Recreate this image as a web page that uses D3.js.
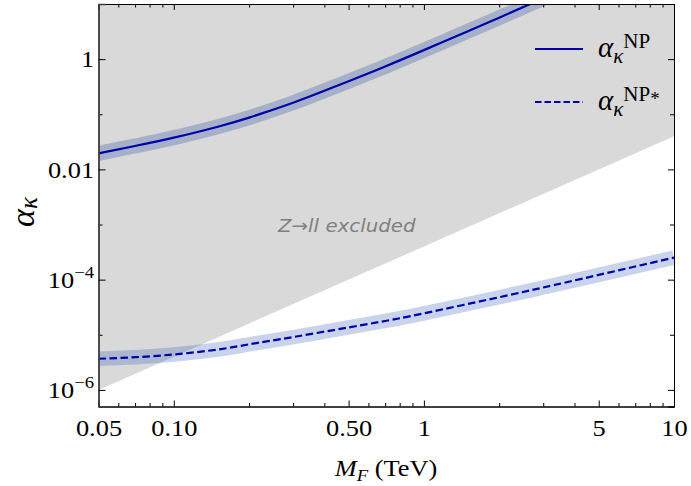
<!DOCTYPE html>
<html>
<head>
<meta charset="utf-8">
<script src="https://cdn.jsdelivr.net/npm/d3@7"></script>
<style>
    body { margin: 0; background: #fff; }
    svg { display: block; }
</style>
</head>
<body>
<div id="svg-wrapper"><svg id="svg" width="691" height="486"></svg></div>
<script>
// values
const massNP = [0.05, 0.07, 0.1, 0.15, 0.2, 0.3, 0.4, 0.5, 0.7, 1, 1.5, 2, 3];
const alphaNP = [0.0195, 0.0266, 0.0376, 0.0595, 0.0869, 0.162, 0.266, 0.398, 0.736, 1.456, 3.21, 5.65, 12.7];
const massNPstar = [0.05, 0.07, 0.1, 0.15, 0.2, 0.3, 0.5, 0.7, 1, 2, 3, 5, 10];
const alphaNPstar = [3.67e-6, 3.92e-6, 4.4e-6, 5.4e-6, 6.7e-6, 9.1e-6, 1.36e-5, 1.78e-5, 2.45e-5, 4.8e-5, 7.2e-5, 1.22e-4, 2.51e-4];
// Z -> ll exclusion boundary (excluded above)
const boundMass = [0.05, 10];
const boundAlpha = [1e-6, 0.04];

const xMajor = [0.05, 0.1, 0.5, 1, 5, 10];
const xMajorLabels = ["0.05", "0.10", "0.50", "1", "5", "10"];
const xMinor = [0.06, 0.07, 0.08, 0.09, 0.2, 0.3, 0.4, 0.6, 0.7, 0.8, 0.9, 2, 3, 4, 6, 7, 8, 9];
const yMajor = [1e-6, 1e-4, 1e-2, 1];
const yMajorLabels = [["10", "\u22126"], ["10", "\u22124"], ["0.01", ""], ["1", ""]];
const yMinor = [1e-5, 1e-3, 0.1];

const svg = d3.select("#svg");
const W = 691, H = 486;
const margin = {top: 4, right: 17, bottom: 79.5, left: 98.5};
const serif = "'Liberation Serif', 'Times New Roman', serif";
const stretch = "scale(1.1,1)";
const lineColor = "#0000a8";

const x = d3.scaleLog().domain([0.05, 10]).range([margin.left, W - margin.right]);
const y = d3.scaleLog().domain([5e-7, 10]).range([H - margin.bottom, margin.top]);

svg.append("defs").append("clipPath").attr("id", "plot-clip")
    .append("rect")
    .attr("x", margin.left).attr("y", margin.top)
    .attr("width", x.range()[1] - x.range()[0])
    .attr("height", y.range()[0] - y.range()[1]);

const plot = svg.append("g").attr("clip-path", "url(#plot-clip)");

// excluded region
const excl = boundMass.map((m, i) => [x(m), y(boundAlpha[i])]);
excl.push([x(10), y(10)], [x(0.05), y(10)]);
plot.append("path")
    .attr("d", "M" + excl.join("L") + "Z")
    .attr("fill", "#d9d9d9");

plot.append("text")
    .attr("x", 278).attr("y", 232)
    .attr("transform", "translate(278,0) " + stretch + " translate(-278,0)")
    .attr("font-family", "'DejaVu Sans', sans-serif")
    .attr("font-style", "italic")
    .attr("font-size", 18)
    .attr("fill", "#7f7f7f")
    .text("Z\u2192ll excluded");

const line = d3.line()
    .x(d => x(d[0]))
    .y(d => y(d[1]))
    .curve(d3.curveNatural);

const dataNP = massNP.map((m, i) => [m, alphaNP[i]]);
const dataNPstar = massNPstar.map((m, i) => [m, alphaNPstar[i]]);

// uncertainty bands
plot.append("path").datum(dataNP)
    .attr("d", line)
    .attr("fill", "none")
    .attr("stroke", "rgb(50,85,165)")
    .attr("stroke-opacity", 0.3)
    .attr("stroke-width", 15);
plot.append("path").datum(dataNPstar)
    .attr("d", line)
    .attr("fill", "none")
    .attr("stroke", "rgb(60,100,185)")
    .attr("stroke-opacity", 0.28)
    .attr("stroke-width", 14.5);

plot.append("path").datum(dataNP)
    .attr("d", line)
    .attr("fill", "none")
    .attr("stroke", lineColor)
    .attr("stroke-width", 2.2);
plot.append("path").datum(dataNPstar)
    .attr("d", line)
    .attr("fill", "none")
    .attr("stroke", lineColor)
    .attr("stroke-width", 2.2)
    .attr("stroke-dasharray", "7.5,3.5");

// frame + ticks
function styleAxis(g) {
    g.selectAll("line").attr("stroke", "#000");
    g.select(".domain").attr("stroke", "#000");
}

const yBottom = H - margin.bottom, yTop = margin.top;
const xLeft = margin.left, xRight = W - margin.right;

svg.append("g").attr("transform", `translate(0,${yBottom})`)
    .call(d3.axisBottom(x).tickValues(xMinor).tickSize(-3.5).tickFormat(""))
    .call(styleAxis);
const xAx = svg.append("g").attr("transform", `translate(0,${yBottom})`)
    .call(d3.axisBottom(x).tickValues(xMajor).tickSize(-6).tickPadding(12)
        .tickFormat((d, i) => xMajorLabels[i]))
    .call(styleAxis);
xAx.selectAll("text")
    .attr("font-family", serif).attr("font-size", 24)
    .attr("fill", "#000")
    .attr("transform", stretch);

svg.append("g").attr("transform", `translate(0,${yTop})`)
    .call(d3.axisTop(x).tickValues(xMinor).tickSize(-3.5).tickFormat(""))
    .call(styleAxis);
svg.append("g").attr("transform", `translate(0,${yTop})`)
    .call(d3.axisTop(x).tickValues(xMajor).tickSize(-6).tickFormat(""))
    .call(styleAxis);

svg.append("g").attr("transform", `translate(${xLeft},0)`)
    .call(d3.axisLeft(y).tickValues(yMinor).tickSize(-4).tickFormat(""))
    .call(styleAxis);
const yAx = svg.append("g").attr("transform", `translate(${xLeft},0)`)
    .call(d3.axisLeft(y).tickValues(yMajor).tickSize(-7).tickPadding(4).tickFormat(""))
    .call(styleAxis);
yAx.select(".domain").attr("stroke", "#444").attr("stroke-width", 1.6);
yAx.selectAll(".tick text")
    .attr("font-family", serif).attr("font-size", 24)
    .attr("fill", "#000")
    .attr("transform", stretch)
    .each(function(d) {
        const lab = yMajorLabels[yMajor.indexOf(d)];
        const t = d3.select(this);
        t.append("tspan").text(lab[0]);
        if (lab[1]) {
            t.append("tspan").attr("font-size", 17).attr("dy", -10).text(lab[1]);
        }
    });

svg.append("g").attr("transform", `translate(${xRight},0)`)
    .call(d3.axisRight(y).tickValues(yMinor).tickSize(-4).tickFormat(""))
    .call(styleAxis);
svg.append("g").attr("transform", `translate(${xRight},0)`)
    .call(d3.axisRight(y).tickValues(yMajor).tickSize(-6).tickFormat(""))
    .call(styleAxis);

// axis titles
const xt = svg.append("text")
    .attr("x", 386).attr("y", 476)
    .attr("text-anchor", "middle")
    .attr("font-family", serif).attr("font-size", 24)
    .attr("transform", "translate(386,0) " + stretch + " translate(-386,0)");
xt.append("tspan").attr("font-style", "italic").text("M");
xt.append("tspan").attr("font-style", "italic").attr("font-size", 17).attr("dy", 5).text("F");
xt.append("tspan").attr("dy", -5).text(" (TeV)");

const yt = svg.append("text")
    .attr("transform", "translate(34,212) rotate(-90)")
    .attr("text-anchor", "middle")
    .attr("font-family", serif).attr("font-size", 34)
    .attr("font-style", "italic");
yt.append("tspan").text("\u03b1");
yt.append("tspan").attr("font-size", 25).attr("dy", 3).text("\u03ba");

// legend
const legendRows = [
    {label: "NP", star: false, dash: null, y: 49},
    {label: "NP", star: true, dash: "6.5,3", y: 102}
];
const leg = svg.append("g");
legendRows.forEach(r => {
    leg.append("line")
        .attr("x1", 535).attr("x2", 583)
        .attr("y1", r.y).attr("y2", r.y)
        .attr("stroke", lineColor)
        .attr("stroke-width", 2.2)
        .attr("stroke-dasharray", r.dash);
    const t = leg.append("text")
        .attr("x", 598).attr("y", r.y + 8)
        .attr("font-family", serif).attr("font-size", 29);
    t.append("tspan").attr("font-style", "italic").text("\u03b1");
    t.append("tspan").attr("font-style", "italic").attr("font-size", 21).attr("dy", 6).text("\u03ba");
    t.append("tspan").attr("font-size", 21).attr("dy", -15).text(r.label);
    if (r.star) {
        t.append("tspan").attr("font-size", 19).attr("dy", 4).text("*");
    }
});
</script>
</body>
</html>
